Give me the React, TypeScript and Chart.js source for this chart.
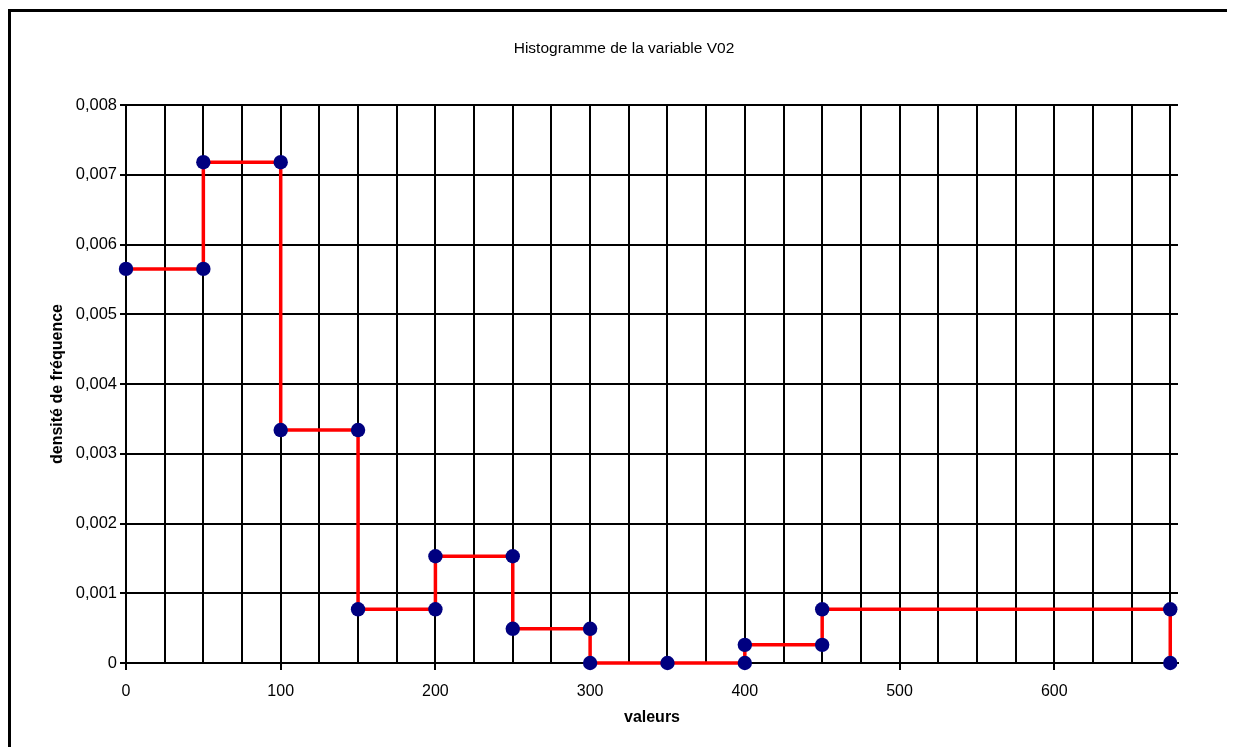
import React, { useEffect, useRef } from "react";
import { Chart, registerables } from "chart.js";

Chart.register(...registerables);

const chartTitle = "Histogramme de la variable V02";
const xAxisTitle = "valeurs";
const yAxisTitle = "densité de fréquence";

const xValues = [0, 50, 50, 100, 100, 150, 150, 200, 200, 250, 250, 300, 300, 350, 400, 400, 450, 450, 675, 675];
const yValues = [
  0.00565, 0.00565, 0.00718, 0.00718, 0.00334, 0.00334, 0.00077, 0.00077, 0.00153, 0.00153,
  0.00049, 0.00049, 0, 0, 0, 0.00026, 0.00026, 0.00077, 0.00077, 0,
];

const xGridValues = [
  0, 25, 50, 75, 100, 125, 150, 175, 200, 225, 250, 275, 300, 325, 350, 375, 400, 425, 450, 475,
  500, 525, 550, 575, 600, 625, 650, 675,
];
const xLabelValues = [0, 100, 200, 300, 400, 500, 600];

const FONT = "'Liberation Sans', Arial, sans-serif";

const titlePlugin = {
  id: "fixedTitle",
  afterDraw(chart: any) {
    const ctx = chart.ctx;
    ctx.save();
    ctx.fillStyle = "#000";
    ctx.font = `normal 15.5px ${FONT}`;
    ctx.textAlign = "center";
    ctx.textBaseline = "middle";
    ctx.fillText(chartTitle, 613, 36.5);
    ctx.restore();
  },
};

export default function App() {
  const canvasRef = useRef<HTMLCanvasElement | null>(null);

  useEffect(() => {
    document.documentElement.style.overflow = "hidden";
    document.body.style.overflow = "hidden";
    const canvas = canvasRef.current;
    if (!canvas) return;
    const data = xValues.map((x, i) => ({ x, y: yValues[i] }));
    const chart = new Chart(canvas, {
      type: "scatter",
      data: {
        datasets: [
          {
            data,
            showLine: true,
            borderColor: "#ff0000",
            borderWidth: 3.5,
            pointRadius: 7.2,
            pointHoverRadius: 7.2,
            pointBackgroundColor: "#000080",
            pointBorderColor: "#000080",
            pointBorderWidth: 0,
            tension: 0,
            clip: false as any,
          },
        ],
      },
      plugins: [titlePlugin],
      options: {
        responsive: false,
        animation: false,
        devicePixelRatio: 1,
        layout: { padding: { left: 0, right: 54, top: 93, bottom: 9 } },
        plugins: {
          legend: { display: false },
          tooltip: { enabled: false },
          title: { display: false },
        },
        scales: {
          x: {
            type: "linear",
            min: 0,
            max: 680,
            afterBuildTicks: (axis: any) => {
              axis.ticks = xGridValues.map((v) => ({ value: v }));
            },
            afterFit: (axis: any) => {
              axis.height = 80;
            },
            ticks: {
              autoSkip: false,
              maxRotation: 0,
              padding: 12,
              color: "#000",
              font: { family: FONT, size: 16 },
              callback: (v: any) => (xLabelValues.includes(Number(v)) ? String(v) : ""),
            },
            grid: {
              color: "#000",
              lineWidth: 2,
              drawTicks: true,
              tickLength: 7,
              tickColor: (ctx: any) =>
                ctx.tick && xLabelValues.includes(ctx.tick.value) ? "#000" : "rgba(0,0,0,0)",
            },
            border: { display: true, color: "#000", width: 2 },
            title: {
              display: true,
              text: xAxisTitle,
              color: "#000",
              font: { family: FONT, size: 16, weight: "bold" as any },
              padding: { top: 0, bottom: 15.5 },
            },
          },
          y: {
            type: "linear",
            min: 0,
            max: 0.008,
            afterFit: (axis: any) => {
              axis.width = 115;
            },
            ticks: {
              stepSize: 0.001,
              padding: 3,
              color: "#000",
              font: { family: FONT, size: 16.5 },
              callback: (v: any) => (Number(v) === 0 ? "0" : Number(v).toFixed(3).replace(".", ",")),
            },
            grid: {
              color: "#000",
              lineWidth: 2,
              drawTicks: true,
              tickLength: 6,
              tickColor: "#000",
            },
            border: { display: true, color: "#000", width: 2 },
            title: {
              display: true,
              text: yAxisTitle,
              color: "#000",
              font: { family: FONT, size: 16, weight: "bold" as any },
              padding: { top: 36.5, bottom: 0 },
            },
          },
        },
      },
    });
    return () => chart.destroy();
  }, []);

  return (
    <div
      style={{
        marginTop: 1,
        width: 1260,
        height: 760,
        border: "3px solid #000",
        boxSizing: "border-box",
        position: "relative",
        background: "#fff",
      }}
    >
      <canvas
        ref={canvasRef}
        width={1221}
        height={740}
        style={{ position: "absolute", left: 0, top: 0, width: 1221, height: 740 }}
      />
    </div>
  );
}
